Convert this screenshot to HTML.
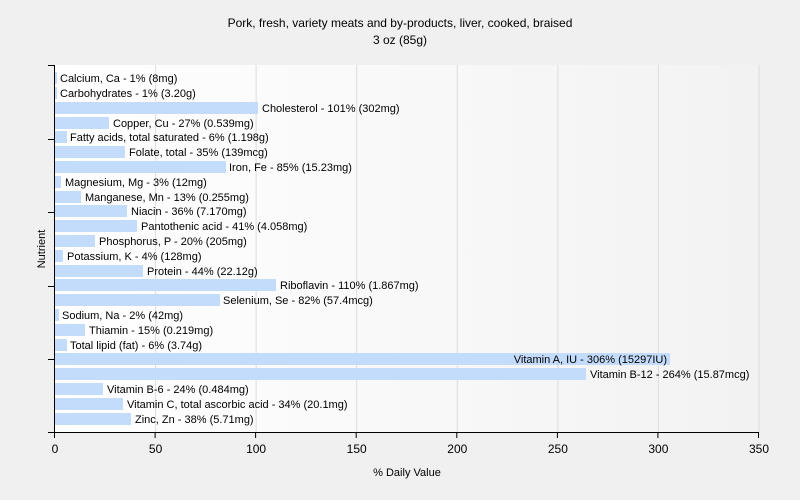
<!DOCTYPE html>
<html><head><style>body{margin:0;background:#f0f0f0}svg{display:block;font-family:"Liberation Sans",Arial,sans-serif}</style></head>
<body>
<svg width="800" height="500" xmlns="http://www.w3.org/2000/svg">
<defs><linearGradient id="g" x1="0" x2="1" y1="0" y2="0"><stop offset="0" stop-color="#ffffff"/><stop offset="1" stop-color="#f2f2f2"/></linearGradient></defs>
<rect width="800" height="500" fill="#f0f0f0"/>
<rect x="55" y="65" width="704" height="368" fill="url(#g)"/>
<g stroke="#dddddd" stroke-width="1">
<line x1="155.6" y1="65" x2="155.6" y2="433"/><line x1="256.1" y1="65" x2="256.1" y2="433"/><line x1="356.7" y1="65" x2="356.7" y2="433"/><line x1="457.3" y1="65" x2="457.3" y2="433"/><line x1="557.9" y1="65" x2="557.9" y2="433"/><line x1="658.4" y1="65" x2="658.4" y2="433"/><line x1="759" y1="65" x2="759" y2="433"/>
</g>
<text x="400" y="27" text-anchor="middle" font-size="12">Pork, fresh, variety meats and by-products, liver, cooked, braised</text>
<text x="400" y="44" text-anchor="middle" font-size="12">3 oz (85g)</text>
<g id="bars" font-size="11" fill="#000"></g>
<g stroke="#000" stroke-width="1">
<line x1="54.5" y1="65" x2="54.5" y2="433"/><line x1="48" y1="432.5" x2="759" y2="432.5"/>
<line x1="48" y1="65.5" x2="55" y2="65.5"/><line x1="48" y1="139.5" x2="55" y2="139.5"/><line x1="48" y1="212.5" x2="55" y2="212.5"/><line x1="48" y1="286.5" x2="55" y2="286.5"/><line x1="48" y1="359.5" x2="55" y2="359.5"/>
<line x1="54.5" y1="433" x2="54.5" y2="438"/><line x1="155.1" y1="433" x2="155.1" y2="438"/><line x1="255.6" y1="433" x2="255.6" y2="438"/><line x1="356.2" y1="433" x2="356.2" y2="438"/><line x1="456.8" y1="433" x2="456.8" y2="438"/><line x1="557.4" y1="433" x2="557.4" y2="438"/><line x1="657.9" y1="433" x2="657.9" y2="438"/><line x1="758.5" y1="433" x2="758.5" y2="438"/>
</g>
<g font-size="12" text-anchor="middle">
<text x="55" y="453">0</text><text x="155.6" y="453">50</text><text x="256.1" y="453">100</text><text x="356.7" y="453">150</text><text x="457.3" y="453">200</text><text x="557.9" y="453">250</text><text x="658.4" y="453">300</text><text x="759" y="453">350</text>
</g>
<text x="407" y="476" text-anchor="middle" font-size="11">% Daily Value</text>
<text x="45" y="249" text-anchor="middle" font-size="11" transform="rotate(-90 45 249)">Nutrient</text>
<g font-size="11">
<rect x="55" y="72" width="2" height="12" fill="#c4dcfc"/><text x="60" y="82">Calcium, Ca - 1% (8mg)</text>
<rect x="55" y="87" width="2" height="12" fill="#c4dcfc"/><text x="60" y="97">Carbohydrates - 1% (3.20g)</text>
<rect x="55" y="102" width="203" height="12" fill="#c4dcfc"/><text x="262" y="112">Cholesterol - 101% (302mg)</text>
<rect x="55" y="117" width="54" height="12" fill="#c4dcfc"/><text x="113" y="127">Copper, Cu - 27% (0.539mg)</text>
<rect x="55" y="131" width="12" height="12" fill="#c4dcfc"/><text x="70" y="141">Fatty acids, total saturated - 6% (1.198g)</text>
<rect x="55" y="146" width="70" height="12" fill="#c4dcfc"/><text x="129" y="156">Folate, total - 35% (139mcg)</text>
<rect x="55" y="161" width="171" height="12" fill="#c4dcfc"/><text x="229" y="171">Iron, Fe - 85% (15.23mg)</text>
<rect x="55" y="176" width="6" height="12" fill="#c4dcfc"/><text x="65" y="186">Magnesium, Mg - 3% (12mg)</text>
<rect x="55" y="191" width="26" height="12" fill="#c4dcfc"/><text x="85" y="201">Manganese, Mn - 13% (0.255mg)</text>
<rect x="55" y="205" width="72" height="12" fill="#c4dcfc"/><text x="131" y="215">Niacin - 36% (7.170mg)</text>
<rect x="55" y="220" width="82" height="12" fill="#c4dcfc"/><text x="141" y="230">Pantothenic acid - 41% (4.058mg)</text>
<rect x="55" y="235" width="40" height="12" fill="#c4dcfc"/><text x="99" y="245">Phosphorus, P - 20% (205mg)</text>
<rect x="55" y="250" width="8" height="12" fill="#c4dcfc"/><text x="67" y="260">Potassium, K - 4% (128mg)</text>
<rect x="55" y="265" width="88" height="12" fill="#c4dcfc"/><text x="147" y="275">Protein - 44% (22.12g)</text>
<rect x="55" y="279" width="221" height="12" fill="#c4dcfc"/><text x="280" y="289">Riboflavin - 110% (1.867mg)</text>
<rect x="55" y="294" width="165" height="12" fill="#c4dcfc"/><text x="223" y="304">Selenium, Se - 82% (57.4mcg)</text>
<rect x="55" y="309" width="4" height="12" fill="#c4dcfc"/><text x="62" y="319">Sodium, Na - 2% (42mg)</text>
<rect x="55" y="324" width="30" height="12" fill="#c4dcfc"/><text x="89" y="334">Thiamin - 15% (0.219mg)</text>
<rect x="55" y="339" width="12" height="12" fill="#c4dcfc"/><text x="70" y="349">Total lipid (fat) - 6% (3.74g)</text>
<rect x="55" y="353" width="615" height="12" fill="#c4dcfc"/><text x="667" y="363" text-anchor="end">Vitamin A, IU - 306% (15297IU)</text>
<rect x="55" y="368" width="531" height="12" fill="#c4dcfc"/><text x="590" y="378">Vitamin B-12 - 264% (15.87mcg)</text>
<rect x="55" y="383" width="48" height="12" fill="#c4dcfc"/><text x="107" y="393">Vitamin B-6 - 24% (0.484mg)</text>
<rect x="55" y="398" width="68" height="12" fill="#c4dcfc"/><text x="127" y="408">Vitamin C, total ascorbic acid - 34% (20.1mg)</text>
<rect x="55" y="413" width="76" height="12" fill="#c4dcfc"/><text x="135" y="423">Zinc, Zn - 38% (5.71mg)</text>
</g>
</svg>
</body></html>
